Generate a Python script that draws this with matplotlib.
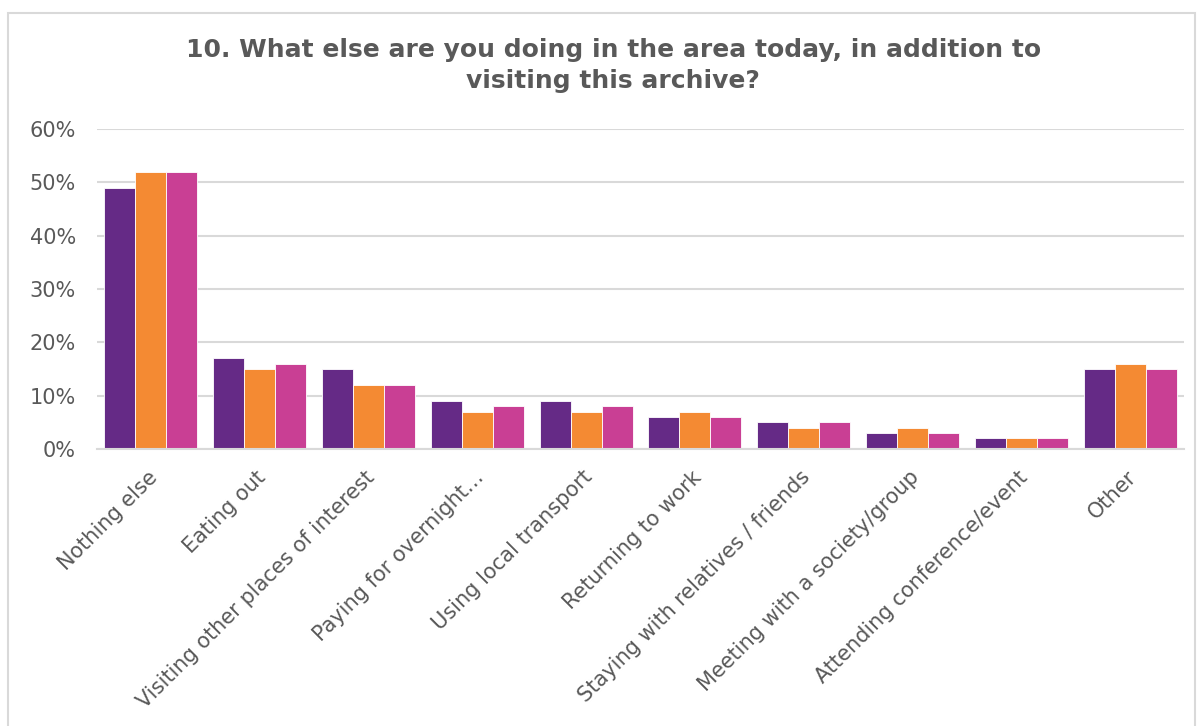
import matplotlib
matplotlib.use("Agg")
import matplotlib.pyplot as plt
import matplotlib.transforms as mtransforms
import numpy as np
from matplotlib.patches import Rectangle
from matplotlib.ticker import PercentFormatter

categories = [
    "Nothing else", "Eating out", "Visiting other places of interest",
    "Paying for overnight…", "Using local transport", "Returning to work",
    "Staying with relatives / friends", "Meeting with a society/group",
    "Attending conference/event", "Other",
]
series_a = [49, 17, 15, 9, 9, 6, 5, 3, 2, 15]
series_b = [52, 15, 12, 7, 7, 7, 4, 4, 2, 16]
series_c = [52, 16, 12, 8, 8, 6, 5, 3, 2, 15]
colors = ["#652A86", "#F48A33", "#C93F94"]
yticks = [0, 10, 20, 30, 40, 50, 60]
title = "10. What else are you doing in the area today, in addition to\nvisiting this archive?"

text_color = "#595959"
grid_color = "#D9D9D9"

fig = plt.figure(figsize=(12, 7.26), dpi=100)
fig.patch.set_facecolor("white")
fig.add_artist(Rectangle((8 / 1200, -0.01), 1187 / 1200, (726 - 13) / 726 + 0.01,
                         transform=fig.transFigure, fill=False,
                         edgecolor=grid_color, linewidth=1.5))

ax = fig.add_axes([0.0805, 0.3815, 0.9065, 0.4408])
x = np.arange(len(categories))
w = 0.285
for i, (vals, c) in enumerate(zip([series_a, series_b, series_c], colors)):
    ax.bar(x + (i - 1) * w, vals, width=w, color=c, edgecolor="white",
           linewidth=0.6, zorder=3)

ax.set_xlim(-0.5, len(categories) - 0.5)
ax.set_ylim(0, 60)
ax.set_yticks(yticks)
ax.yaxis.set_major_formatter(PercentFormatter(decimals=0))
ax.grid(axis="y", color=grid_color, linewidth=1.5, zorder=0)
for s in ["top", "right", "left"]:
    ax.spines[s].set_visible(False)
ax.spines["bottom"].set_color(grid_color)
ax.spines["bottom"].set_linewidth(1.5)
ax.spines["bottom"].set_zorder(4)
ax.tick_params(axis="both", length=0, labelsize=15, labelcolor=text_color)
ax.tick_params(axis="y", pad=15)
ax.set_xticks(x)
ax.set_xticklabels(categories, rotation=45, ha="right", va="top",
                   rotation_mode="anchor")
ax.tick_params(axis="x", pad=13)
shift = mtransforms.ScaledTranslation(-4 / 100, 0, fig.dpi_scale_trans)
for lbl in ax.get_xticklabels():
    lbl.set_transform(lbl.get_transform() + shift)

fig.text(0.511, 0.948, title, ha="center", va="top", fontsize=18,
         fontweight="bold", color=text_color, linespacing=1.4)

fig.savefig("out.png", dpi=100, facecolor="white")
